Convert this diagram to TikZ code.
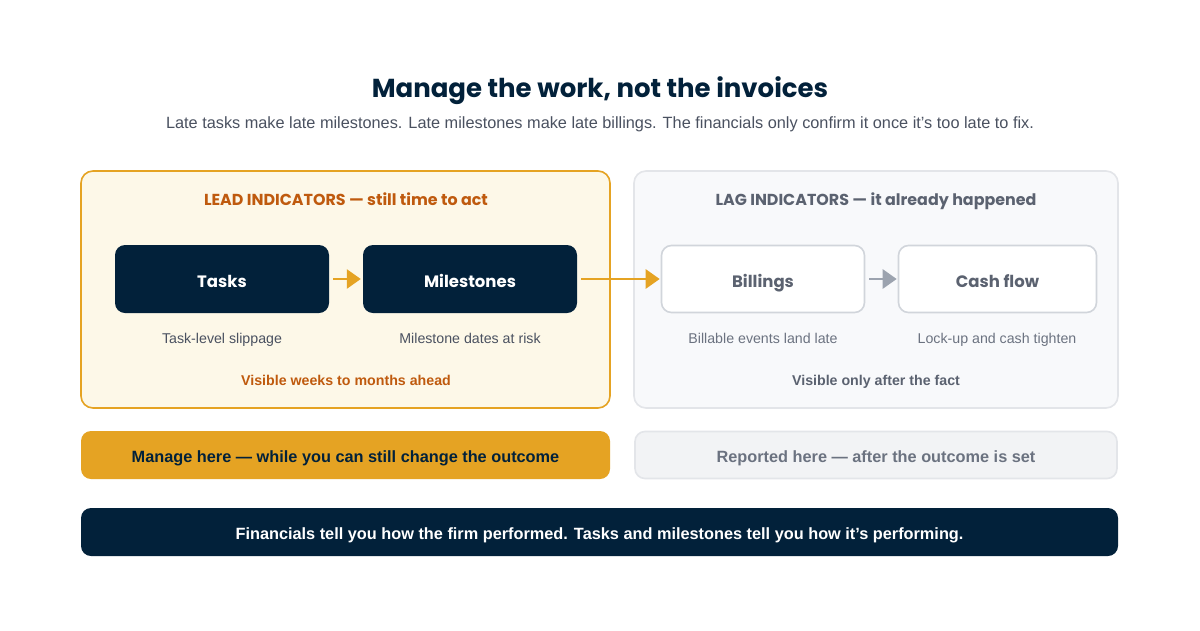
\documentclass[tikz,border=0pt]{standalone}
\usepackage{fontspec}
\setmainfont{Liberation Sans}
\newfontfamily\headfont{Poppins}
\usetikzlibrary{arrows.meta}
\definecolor{navy}{HTML}{02213A}
\definecolor{amber}{HTML}{E5A323}
\definecolor{cream}{HTML}{FDF8E8}
\definecolor{rust}{HTML}{BF5A0E}
\definecolor{lagbg}{HTML}{F8F9FB}
\definecolor{lagbd}{HTML}{E3E5E9}
\definecolor{nodebd}{HTML}{D1D5DB}
\definecolor{graytxt}{HTML}{5B6270}
\definecolor{captxt}{HTML}{4A5160}
\definecolor{arrgray}{HTML}{9CA3AF}
\definecolor{repbg}{HTML}{F2F3F5}
\definecolor{reptxt}{HTML}{6B7280}
\tikzset{
  freetext/.style={anchor=base, inner sep=0pt},
  panel/.style={rounded corners=12pt, line width=1.6pt},
  darknode/.style={rounded corners=10pt, fill=navy, text=white, text height=16pt, text depth=0pt, font=\headfont\bfseries\fontsize{16.5}{18}\selectfont},
  lightnode/.style={rounded corners=10pt, fill=white, draw=nodebd, line width=1.6pt, text=graytxt, text height=16pt, text depth=0pt, font=\headfont\bfseries\fontsize{16.5}{18}\selectfont},
  captext/.style={freetext, font=\fontsize{14.2}{16}\selectfont},
  flow/.style={-{Triangle[length=14pt,width=19pt]}, line width=2.8pt},
  banner/.style={rounded corners=10pt, text height=14pt, text depth=0pt, font=\bfseries\fontsize{16.3}{18}\selectfont}
}
\begin{document}
\begin{tikzpicture}[x=1pt,y=-1pt]
\useasboundingbox[fill=white] (0,0) rectangle (1200,630);
% title
\node[freetext, text=navy, font=\headfont\bfseries\fontsize{26}{30}\selectfont] (title) at (600,97) {Manage the work, not the invoices};
\node[freetext, text=captxt, font=\fontsize{16.3}{18}\selectfont] (sub) at (600,128.5) {Late tasks make late milestones. Late milestones make late billings. The financials only confirm it once it’s too late to fix.};
% panels
\draw[panel, fill=cream, draw=amber] (81,171) rectangle (610,408);
\draw[panel, fill=lagbg, draw=lagbd] (634,171) rectangle (1118,408);
\node[freetext, text=rust, font=\headfont\bfseries\fontsize{15.9}{18}\selectfont] (leadt) at (346,205) {LEAD INDICATORS — still time to act};
\node[freetext, text=graytxt, font=\headfont\bfseries\fontsize{15.9}{18}\selectfont] (lagt) at (876,205) {LAG INDICATORS — it already happened};
% nodes
\node[darknode, minimum width=214pt, minimum height=68pt] (tasks) at (222,279) {Tasks};
\node[darknode, minimum width=214pt, minimum height=68pt] (miles) at (470,279) {Milestones};
\node[lightnode, minimum width=203pt, minimum height=67pt] (bill) at (763,279) {Billings};
\node[lightnode, minimum width=198pt, minimum height=67pt] (cash) at (997.5,279) {Cash flow};
% arrows
\draw[flow, amber] ([xshift=4pt]tasks.east) -- ([xshift=-2pt]miles.west);
\draw[flow, amber] ([xshift=4pt]miles.east) -- ([xshift=-1pt]bill.west);
\draw[flow, arrgray] ([xshift=4pt]bill.east) -- ([xshift=-1pt]cash.west);
% captions
\node[captext, text=captxt] (c1) at (222,343) {Task-level slippage};
\node[captext, text=captxt] (c2) at (470,343) {Milestone dates at risk};
\node[captext, text=reptxt] (c3) at (763,343) {Billable events land late};
\node[captext, text=reptxt] (c4) at (997,343) {Lock-up and cash tighten};
\node[freetext, text=rust, font=\bfseries\fontsize{14.2}{16}\selectfont] (v1) at (346,385) {Visible weeks to months ahead};
\node[freetext, text=graytxt, font=\bfseries\fontsize{14.2}{16}\selectfont] (v2) at (876,385) {Visible only after the fact};
% bottom banners
\node[banner, fill=amber, text=navy, minimum width=529pt, minimum height=48pt] (manage) at (345.5,455) {Manage here — while you can still change the outcome};
\node[banner, fill=repbg, draw=lagbd, line width=1.6pt, text=reptxt, minimum width=482pt, minimum height=47pt] (report) at (876,455) {Reported here — after the outcome is set};
\node[banner, fill=navy, text=white, minimum width=1037pt, minimum height=48pt] (fin) at (599.5,532) {Financials tell you how the firm performed. Tasks and milestones tell you how it’s performing.};
\end{tikzpicture}
\end{document}
